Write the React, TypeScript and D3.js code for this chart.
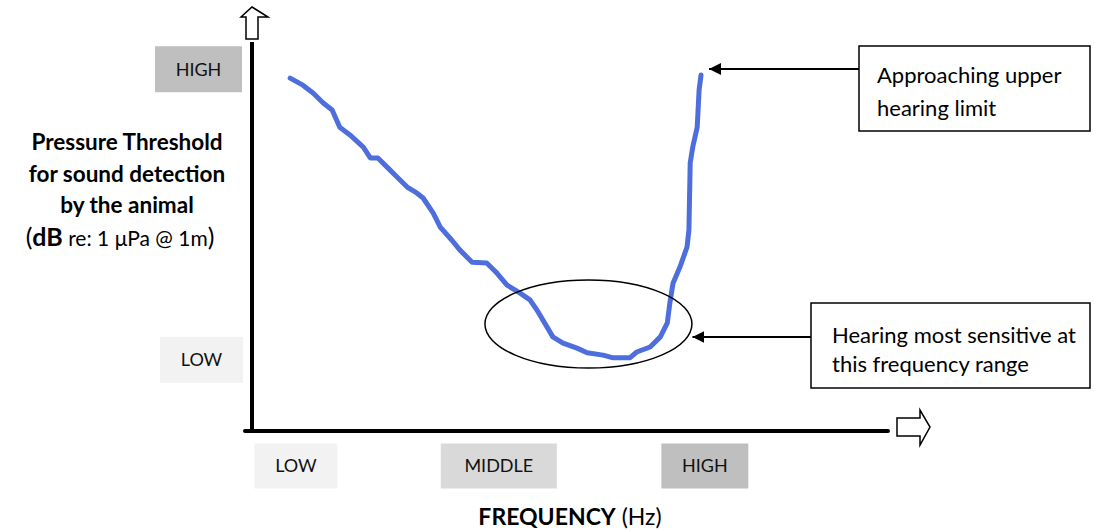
import * as d3 from 'd3'

// hearing threshold curve, arbitrary units (0-100 on both axes)
const frequency = [
  6.0, 8.0, 9.6, 11.2, 12.6, 13.8, 15.4, 17.5, 18.6, 19.8, 21.2, 22.8, 24.4, 25.9, 26.9, 28.5,
  29.6, 31.4, 32.7, 34.6, 36.9, 38.5, 40.1, 42.1, 43.7, 44.8, 46.4, 47.3, 48.9, 51.1, 52.7, 55.2,
  56.8, 59.4, 60.5, 62.6, 64.2, 65.3, 65.7, 66.2, 67.3, 68.4, 68.7, 68.9, 69.3, 70.0, 70.3, 70.6,
]
const threshold = [
  90.7, 88.9, 86.9, 84.3, 82.5, 78.1, 76.1, 73.0, 70.2, 70.2, 67.9, 65.3, 62.7, 61.2, 59.9, 56.0,
  52.4, 49.1, 46.5, 43.4, 43.2, 40.6, 37.5, 35.5, 33.7, 31.1, 26.7, 24.2, 22.6, 21.3, 20.1, 19.5,
  18.8, 18.8, 20.3, 21.6, 24.2, 27.8, 32.9, 38.0, 42.2, 47.3, 51.7, 68.9, 73.0, 78.1, 87.7, 91.5,
]

const xLevels = ['LOW', 'MIDDLE', 'HIGH']
const xLevelAt = [6.9, 38.8, 71.2]
const yLevels = ['HIGH', 'LOW']
const yLevelAt = [93.0, 18.3]

const yTitle = ['Pressure Threshold', 'for sound detection', 'by the animal']
const noteUpper = ['Approaching upper', 'hearing limit']
const noteSensitive = ['Hearing most sensitive at', 'this frequency range']

const W = 1095
const H = 531
const FONT = 'Lato, "Open Sans", sans-serif'

const levelFill: Record<string, string> = { LOW: '#f2f2f2', MIDDLE: '#d9d9d9', HIGH: '#bfbfbf' }
const levelWidth: Record<string, number> = { LOW: 83, MIDDLE: 116, HIGH: 87 }

export default function App() {
  const x = d3.scaleLinear().domain([0, 100]).range([252, 888])
  const y = d3.scaleLinear().domain([0, 100]).range([431, 42])

  const pts = frequency.map((f, i) => [x(f), y(threshold[i])] as [number, number])
  const line = d3.line().curve(d3.curveLinear)(pts) ?? ''

  // ellipse around the minimum
  const ex = x(52.9)
  const ey = y(27.5)

  const tip = pts[pts.length - 1]

  return (
    <svg
      width={W}
      height={H}
      style={{ position: 'fixed', left: 0, top: 0, background: '#fff' }}
      fontFamily={FONT}
    >
      <defs>
        <marker id="ah" viewBox="0 0 10 10" refX="10" refY="5" markerWidth="6" markerHeight="6" orient="auto">
          <path d="M0,0 L10,5 L0,10 z" fill="#000" />
        </marker>
      </defs>

      {/* axes */}
      <line x1={x(0)} x2={x(0)} y1={y(100)} y2={y(0) + 1} stroke="#000" strokeWidth={4} />
      <line x1={x(0) - 7} x2={x(100)} y1={y(0)} y2={y(0)} stroke="#000" strokeWidth={4} strokeLinecap="round" />
      <path
        d={`M${x(0) - 6},${y(100) - 3} V${y(100) - 25} H${x(0) - 11} L${x(0)},${y(100) - 35} L${x(0) + 16},${y(100) - 25} H${x(0) + 6} V${y(100) - 3} Z`}
        fill="#fff"
        stroke="#000"
        strokeWidth={1.5}
      />
      <path
        d={`M${x(100) + 9},${y(0) - 13} H${x(100) + 32} V${y(0) - 21} L${x(100) + 42},${y(0) - 4} L${x(100) + 32},${y(0) + 14} V${y(0) + 5} H${x(100) + 9} Z`}
        fill="#fff"
        stroke="#000"
        strokeWidth={1.5}
      />

      {/* level boxes */}
      {xLevels.map((lab, i) => (
        <g key={'x' + lab} transform={`translate(${x(xLevelAt[i])},466)`}>
          <rect x={-levelWidth[lab] / 2} y={-22.5} width={levelWidth[lab]} height={45} fill={levelFill[lab]} />
          <text textAnchor="middle" dy="0.36em" fontSize={18} fill="#111">{lab}</text>
        </g>
      ))}
      {yLevels.map((lab, i) => (
        <g key={'y' + lab} transform={`translate(${lab === 'HIGH' ? 198.5 : 201.5},${y(yLevelAt[i])})`}>
          <rect x={-levelWidth[lab] / 2} y={-23} width={levelWidth[lab]} height={46} fill={levelFill[lab]} />
          <text textAnchor="middle" dy="0.36em" fontSize={18} fill="#111">{lab}</text>
        </g>
      ))}

      {/* axis titles */}
      <g fontSize={22.5} fontWeight="bold" textAnchor="middle" fill="#000">
        {yTitle.map((t, i) => (
          <text key={t} x={127} y={150 + i * 31.5}>{t}</text>
        ))}
      </g>
      <text x={120} y={246} textAnchor="middle" fill="#000">
        <tspan fontSize={25}>(</tspan>
        <tspan fontSize={25} fontWeight="bold">dB</tspan>
        <tspan fontSize={21}> re: 1 μPa @ 1m</tspan>
        <tspan fontSize={25}>)</tspan>
      </text>
      <text x={570} y={525} textAnchor="middle" fill="#000">
        <tspan fontSize={23} fontWeight="bold">FREQUENCY</tspan>
        <tspan fontSize={23}> (Hz)</tspan>
      </text>

      {/* curve */}
      <path d={line} fill="none" stroke="#4f6ede" strokeWidth={5} strokeLinejoin="round" strokeLinecap="round" />

      {/* ellipse + notes */}
      <ellipse cx={ex} cy={ey} rx={103.5} ry={44} fill="none" stroke="#000" strokeWidth={1.5} />

      <line x1={859} x2={tip[0] + 8} y1={69} y2={69} stroke="#000" strokeWidth={2} markerEnd="url(#ah)" />
      <rect x={859} y={46} width={231} height={85} fill="#fff" stroke="#000" strokeWidth={1.5} />
      {noteUpper.map((t, i) => (
        <text key={t} x={877} y={83 + i * 33} fontSize={22} fill="#000">{t}</text>
      ))}

      <line x1={811} x2={ex + 104} y1={337} y2={337} stroke="#000" strokeWidth={2} markerEnd="url(#ah)" />
      <rect x={811} y={303} width={279} height={85} fill="#fff" stroke="#000" strokeWidth={1.5} />
      {noteSensitive.map((t, i) => (
        <text key={t} x={832} y={343 + i * 28.5} fontSize={22} fill="#000">{t}</text>
      ))}
    </svg>
  )
}
